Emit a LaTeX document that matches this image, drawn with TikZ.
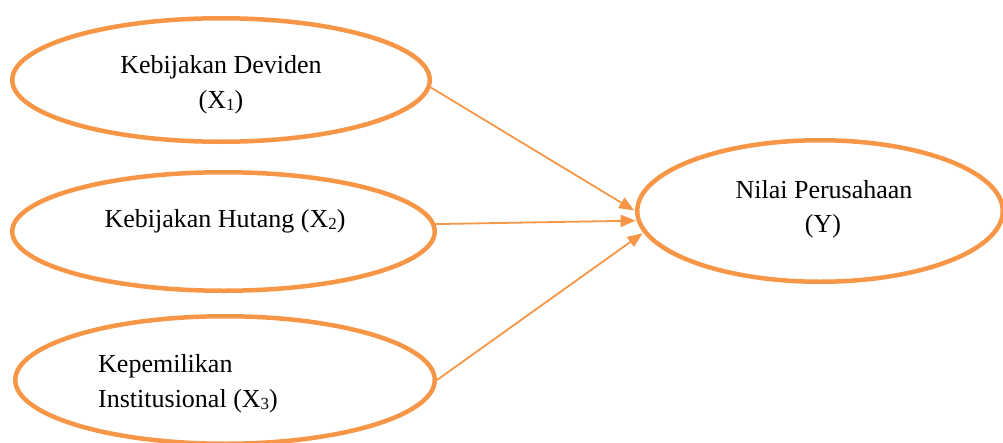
\documentclass[tikz,border=0pt]{standalone}
\usepackage{fontspec}
\setmainfont{Liberation Serif}
\usetikzlibrary{shapes.geometric,arrows.meta}
\definecolor{accent}{RGB}{247,150,70}
% lowered index digit, as in X1, X2, X3
\newcommand{\lowidx}[1]{\raisebox{-2.5pt}{\fontsize{17}{17}\selectfont #1}}
\begin{document}
\begin{tikzpicture}[x=1pt,y=-1pt,
  var/.style={ellipse,draw=accent,line width=4.5pt,inner sep=0pt},
  lbl/.style={font=\fontsize{26}{31}\selectfont,inner sep=0pt},
  link/.style={draw=accent,line width=1.8pt,-{Triangle[length=15pt,width=12pt]}}]
\useasboundingbox (0,0) rectangle (1003,442);

% variables
\node[var,minimum width=417.5pt,minimum height=123.5pt] (e1) at (221,80) {};
\node[var,minimum width=422.5pt,minimum height=118.5pt] (e2) at (223.5,231.5) {};
\node[var,minimum width=419.5pt,minimum height=127.5pt] (e3) at (225,380) {};
\node[var,minimum width=365.5pt,minimum height=141.5pt] (e4) at (820,211) {};

% labels
\node[lbl,anchor=base] (t1a) at (221,73) {Kebijakan Deviden};
\node[lbl,anchor=base] (t1b) at (221,108) {(X\lowidx{1})};
\node[lbl,anchor=base] (t2) at (225,227) {Kebijakan Hutang (X\lowidx{2})};
\node[lbl,anchor=base west] (t3a) at (98,372) {Kepemilikan};
\node[lbl,anchor=base west] (t3b) at (98,407) {Institusional (X\lowidx{3})};
\node[lbl,anchor=base] (t4a) at (824,198) {Nilai Perusahaan};
\node[lbl,anchor=base] (t4b) at (823,232) {(Y)};

% paths
\draw[link,shorten >=1pt] (e1.-2) -- (e4.180);
\draw[link,shorten >=1pt] (e2.2) -- (e4.183);
\draw[link,shorten >=1pt] (e3.east) -- (e4.187);
\end{tikzpicture}
\end{document}
